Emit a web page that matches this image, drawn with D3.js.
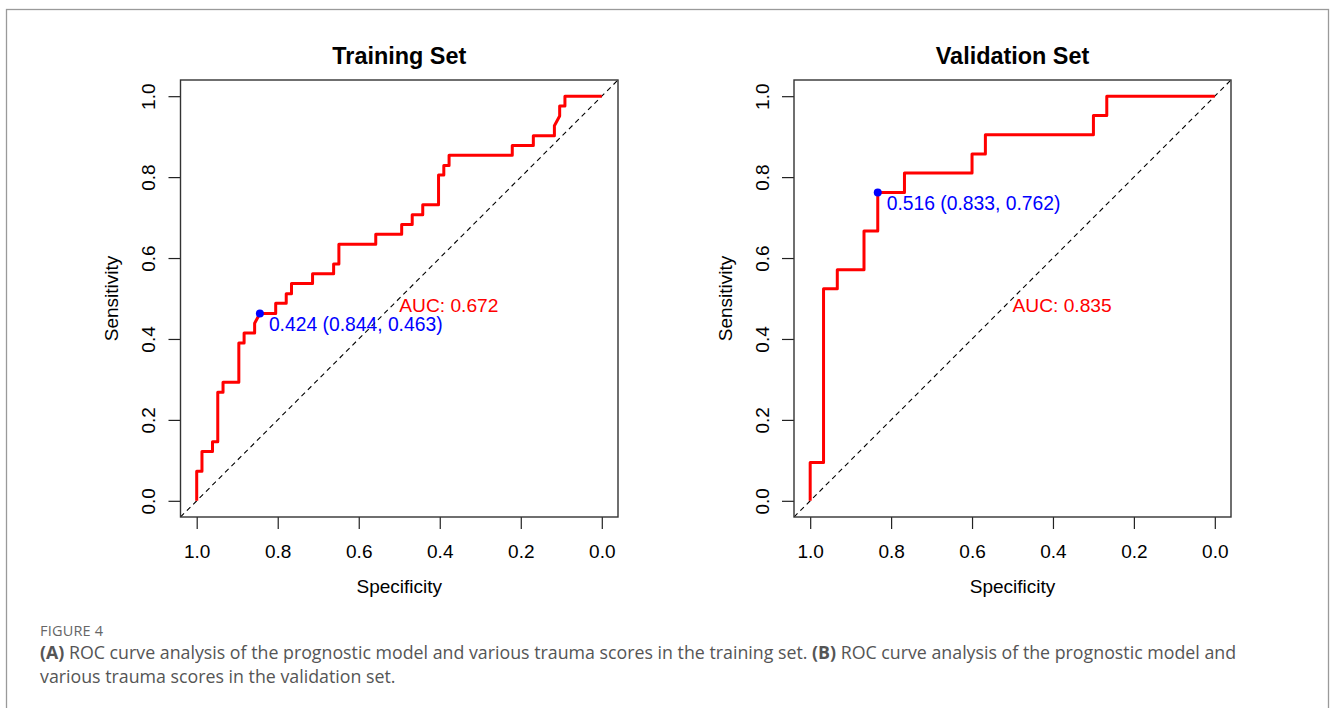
<!DOCTYPE html>
<html>
<head>
<meta charset="utf-8">
<script src="https://cdn.jsdelivr.net/npm/d3@7"></script>
<style>
  body { margin: 0; background: #fff; }
  svg { display: block; }
</style>
</head>
<body>
<svg id="fig" width="1330" height="708"></svg>
<script>
// ROC points (specificity, sensitivity)
const trainSpecificity = [1.000, 1.000, 0.987, 0.987, 0.961, 0.961, 0.948, 0.948, 0.935, 0.935,
  0.896, 0.896, 0.883, 0.883, 0.857, 0.857, 0.844, 0.805, 0.805, 0.779, 0.779, 0.766, 0.766,
  0.714, 0.714, 0.662, 0.662, 0.649, 0.649, 0.558, 0.558, 0.494, 0.494, 0.468, 0.468, 0.442,
  0.442, 0.403, 0.403, 0.390, 0.390, 0.377, 0.377, 0.221, 0.221, 0.169, 0.169, 0.117, 0.117,
  0.104, 0.104, 0.091, 0.091, 0.000];
const trainSensitivity = [0.000, 0.073, 0.073, 0.122, 0.122, 0.146, 0.146, 0.268, 0.268, 0.293,
  0.293, 0.390, 0.390, 0.415, 0.415, 0.439, 0.463, 0.463, 0.488, 0.488, 0.512, 0.512, 0.537,
  0.537, 0.561, 0.561, 0.585, 0.585, 0.634, 0.634, 0.659, 0.659, 0.683, 0.683, 0.707, 0.707,
  0.732, 0.732, 0.805, 0.805, 0.829, 0.829, 0.854, 0.854, 0.878, 0.878, 0.902, 0.902, 0.927,
  0.951, 0.976, 0.976, 1.000, 1.000];

const validSpecificity = [1.000, 1.000, 0.967, 0.967, 0.933, 0.933, 0.867, 0.867, 0.833, 0.833,
  0.767, 0.767, 0.600, 0.600, 0.567, 0.567, 0.300, 0.300, 0.267, 0.267, 0.000];
const validSensitivity = [0.000, 0.095, 0.095, 0.524, 0.524, 0.571, 0.571, 0.667, 0.667, 0.762,
  0.762, 0.810, 0.810, 0.857, 0.857, 0.905, 0.905, 0.952, 0.952, 1.000, 1.000];

const panelTitles = ['Training Set', 'Validation Set'];
const aucLabels = ['AUC: 0.672', 'AUC: 0.835'];
// best threshold: [threshold, specificity, sensitivity]
const bestThreshold = [[0.424, 0.844, 0.463], [0.516, 0.833, 0.762]];
const tickValues = [0.0, 0.2, 0.4, 0.6, 0.8, 1.0];

const svg = d3.select('#fig');
const fontFam = '"Liberation Sans", Arial, Helvetica, sans-serif';

// outer frame of the figure
svg.append('rect')
  .attr('x', 6.5).attr('y', 9.5)
  .attr('width', 1322).attr('height', 720)
  .attr('fill', 'none').attr('stroke', '#9a9a9a').attr('stroke-width', 1.3);

const panels = [
  { left: 180.5, right: 618, spec: trainSpecificity, sens: trainSensitivity },
  { left: 794, right: 1231, spec: validSpecificity, sens: validSensitivity }
];
const plotTop = 80, plotBottom = 517;

panels.forEach((p, i) => {
  const x = d3.scaleLinear().domain([1.04, -0.04]).range([p.left, p.right]);
  const y = d3.scaleLinear().domain([-0.04, 1.04]).range([plotBottom, plotTop]);
  const g = svg.append('g');

  g.append('clipPath').attr('id', 'clip' + i)
    .append('rect')
    .attr('x', p.left).attr('y', plotTop)
    .attr('width', p.right - p.left).attr('height', plotBottom - plotTop);

  // diagonal reference line
  g.append('line')
    .attr('clip-path', `url(#clip${i})`)
    .attr('x1', x(1.04)).attr('y1', y(-0.04))
    .attr('x2', x(-0.04)).attr('y2', y(1.04))
    .attr('stroke', '#000').attr('stroke-width', 1.1)
    .attr('stroke-dasharray', '5,4');

  // ROC curve
  const pts = p.spec.map((s, k) => [s, p.sens[k]]);
  g.append('path')
    .datum(pts)
    .attr('fill', 'none')
    .attr('stroke', '#ff0000')
    .attr('stroke-width', 3)
    .attr('stroke-linejoin', 'round')
    .attr('d', d3.line().x(d => x(d[0])).y(d => y(d[1])));

  // best threshold point + label
  const bt = bestThreshold[i];
  g.append('circle')
    .attr('cx', x(bt[1])).attr('cy', y(bt[2])).attr('r', 4)
    .attr('fill', '#0000ff');
  g.append('text')
    .attr('x', x(bt[1]) + 9).attr('y', y(bt[2]) + 17.5)
    .attr('font-family', fontFam).attr('font-size', 19.3)
    .attr('fill', '#0000ff')
    .text(`${bt[0].toFixed(3)} (${bt[1].toFixed(3)}, ${bt[2].toFixed(3)})`);

  // AUC text
  g.append('text')
    .attr('x', x(0.5)).attr('y', y(0.5) + 13.6)
    .attr('font-family', fontFam).attr('font-size', 19.2)
    .attr('fill', '#ff0000')
    .text(aucLabels[i]);

  // axes
  const xAxis = d3.axisBottom(x).tickValues(tickValues).tickSize(12).tickPadding(16)
    .tickFormat(d3.format('.1f'));
  const yAxis = d3.axisLeft(y).tickValues(tickValues).tickSize(12)
    .tickFormat(d3.format('.1f'));

  const gx = g.append('g').attr('transform', `translate(0,${plotBottom})`).call(xAxis);
  const gy = g.append('g').attr('transform', `translate(${p.left},0)`).call(yAxis);
  [gx, gy].forEach(a => {
    a.select('.domain').remove();
    a.selectAll('line').attr('stroke', '#222').attr('stroke-width', 1.2);
    a.selectAll('text')
      .attr('font-family', fontFam).attr('font-size', 19).attr('fill', '#000');
  });
  gy.selectAll('text')
    .attr('x', null).attr('dy', null)
    .attr('text-anchor', 'middle')
    .attr('transform', 'translate(-25.5,0) rotate(-90)');

  // box
  g.append('rect')
    .attr('x', p.left).attr('y', plotTop)
    .attr('width', p.right - p.left).attr('height', plotBottom - plotTop)
    .attr('fill', 'none').attr('stroke', '#333').attr('stroke-width', 1.4);

  // titles
  const cx = (p.left + p.right) / 2;
  g.append('text')
    .attr('x', cx).attr('y', 64)
    .attr('text-anchor', 'middle')
    .attr('font-family', fontFam).attr('font-size', 23.4).attr('font-weight', 'bold')
    .text(panelTitles[i]);
  g.append('text')
    .attr('x', cx).attr('y', 593)
    .attr('text-anchor', 'middle')
    .attr('font-family', fontFam).attr('font-size', 19)
    .text('Specificity');
  g.append('text')
    .attr('transform', `translate(${p.left - 62.5},${(plotTop + plotBottom) / 2}) rotate(-90)`)
    .attr('text-anchor', 'middle')
    .attr('font-family', fontFam).attr('font-size', 19)
    .text('Sensitivity');
});

// caption
const capFont = '"Open Sans", "Noto Sans", sans-serif';
svg.append('text')
  .attr('x', 40).attr('y', 636)
  .attr('font-family', capFont).attr('font-size', 14.5)
  .attr('fill', '#666').attr('letter-spacing', 0.2)
  .text('FIGURE 4');

const cap1 = svg.append('text')
  .attr('x', 40).attr('y', 659)
  .attr('font-family', capFont).attr('font-size', 17.8).attr('fill', '#555');
cap1.append('tspan').attr('font-weight', 'bold').text('(A)');
cap1.append('tspan').text(' ROC curve analysis of the prognostic model and various trauma scores in the training set. ');
cap1.append('tspan').attr('font-weight', 'bold').text('(B)');
cap1.append('tspan').text(' ROC curve analysis of the prognostic model and');

svg.append('text')
  .attr('x', 40).attr('y', 683)
  .attr('font-family', capFont).attr('font-size', 17.8).attr('fill', '#555')
  .text('various trauma scores in the validation set.');
</script>
</body>
</html>
